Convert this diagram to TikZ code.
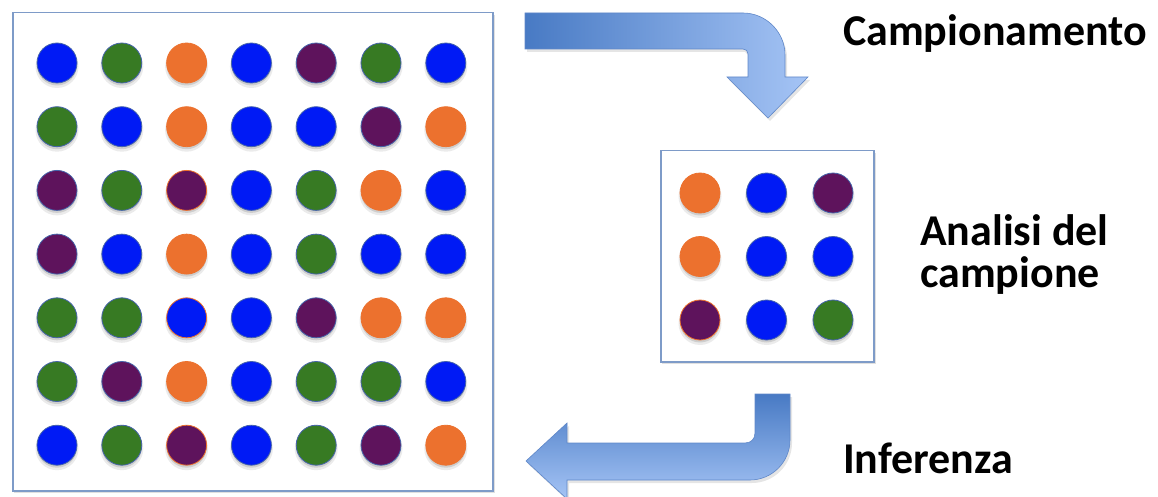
\documentclass[tikz,border=0pt]{standalone}
\usepackage{fontspec}
\setmainfont{Carlito}
\usetikzlibrary{calc}
\definecolor{cB}{RGB}{0,26,245}
\definecolor{cG}{RGB}{55,122,35}
\definecolor{cO}{RGB}{236,113,46}
\definecolor{cP}{RGB}{94,19,92}
\definecolor{boxcol}{RGB}{126,155,200}
\definecolor{ringB}{RGB}{70,100,170}
\definecolor{arrdark}{RGB}{72,122,196}
\definecolor{arrlight}{RGB}{165,196,245}
\definecolor{arredge}{RGB}{95,135,200}
\tikzset{
  dot/.style={circle, minimum size=40pt, inner sep=0pt, line width=0.8pt},
  dB/.style={dot, fill=cB, draw=ringB},
  dG/.style={dot, fill=cG, draw=ringB},
  dO/.style={dot, fill=cO, draw=cO},
  dP/.style={dot, fill=cP, draw=ringB},
  dPo/.style={dot, fill=cP, draw=cO},
  dBo/.style={dot, fill=cB, draw=cO},
  frame/.style={draw=boxcol, line width=1.5pt, fill=white},
  bigarrow/.style={draw=arredge, line width=0.6pt},
  lbl/.style={anchor=base west, inner sep=0pt, font=\fontsize{44}{52}\selectfont\bfseries}
}
\newcommand{\shadowdot}[1]{%
  \fill[black, opacity=0.08] ($(#1)+(0,3.5)$) circle (21.5pt);
  \fill[black, opacity=0.12] ($(#1)+(0,2.5)$) circle (20pt);
}
\begin{document}
\begin{tikzpicture}[x=1pt,y=-1pt]
\useasboundingbox (0,0) rectangle (1158,497);
% frames with shadow
\fill[black, opacity=0.12] (14,15) rectangle (495,493);
\node[frame, minimum width=480pt, minimum height=478pt, inner sep=0pt, anchor=north west] (big) at (12,12) {};
\fill[black, opacity=0.12] (662,153) rectangle (876,364);
\node[frame, minimum width=213pt, minimum height=211pt, inner sep=0pt, anchor=north west] (small) at (660,150) {};
% big grid
\foreach \row [count=\r] in {
  {B,G,O,B,P,G,B},
  {G,B,O,B,B,P,O},
  {P,G,Po,B,G,O,B},
  {P,B,O,B,G,B,B},
  {G,G,Bo,B,P,O,O},
  {G,P,O,B,G,G,B},
  {B,G,Po,B,G,P,O}} {
  \foreach \col [count=\c] in \row {
    \coordinate (p-\r-\c) at ({57+64.8*(\c-1)},{63+63.7*(\r-1)});
    \shadowdot{p-\r-\c}
    \node[d\col] (b-\r-\c) at (p-\r-\c) {};
  }
}
% small grid
\foreach \row [count=\r] in {
  {O,B,P},
  {O,B,B},
  {Po,B,G}} {
  \foreach \col [count=\c] in \row {
    \coordinate (q-\r-\c) at ({700+66.5*(\c-1)},{193+63.5*(\r-1)});
    \shadowdot{q-\r-\c}
    \node[d\col] (s-\r-\c) at (q-\r-\c) {};
  }
}
% top arrow
\fill[black, opacity=0.10] (527,16) -- (743,16) .. controls (766,16) and (787,35) .. (787,58) -- (787,80) -- (810,80) -- (770,121) -- (729,80) -- (750,80) -- (750,57) -- (745,52) -- (527,52) -- cycle;
\path[bigarrow, left color=arrdark, right color=arrlight, shading angle=90]
  (525,13) -- (743,13) .. controls (766,13) and (785,32) .. (785,55)
  -- (785,77) -- (808,77) -- (768,118) -- (727,77) -- (748,77) -- (748,54)
  .. controls (748,51) and (746,49) .. (743,49) -- (525,49) -- cycle;
% bottom arrow
\fill[black, opacity=0.10] (757,397) -- (792,397) -- (792,443) .. controls (792,465) and (774,483) .. (752,483) -- (569,483) -- (569,502) -- (528,464) -- (569,426) -- (569,446) -- (750,446) -- (757,439) -- cycle;
\path[bigarrow, top color=arrdark, bottom color=arrlight]
  (755,394) -- (790,394) -- (790,440) .. controls (790,462) and (772,480) .. (750,480)
  -- (567,480) -- (567,499) -- (526,461) -- (567,423) -- (567,443) -- (745,443)
  .. controls (751,443) and (755,439) .. (755,433) -- cycle;
% labels
\node[lbl] (t1) at (843,46) {Campionamento};
\node[lbl] (t2) at (920,245) {Analisi del};
\node[lbl] (t3) at (920,287) {campione};
\node[lbl] (t4) at (843,473) {Inferenza};
\end{tikzpicture}
\end{document}
